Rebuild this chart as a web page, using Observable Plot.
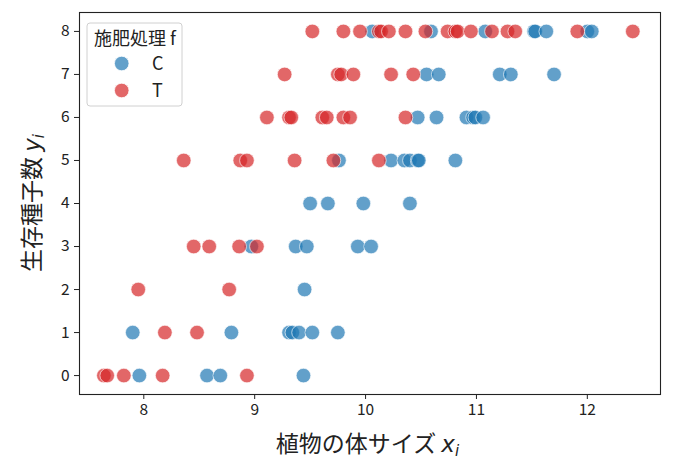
<!DOCTYPE html>
<html>
<head>
<meta charset="utf-8">
<script src="https://cdn.jsdelivr.net/npm/d3@7"></script>
<script src="https://cdn.jsdelivr.net/npm/@observablehq/plot@0.6"></script>
<style>
  html, body { margin: 0; padding: 0; background: white; }
  svg { display: block; }
</style>
</head>
<body>
<div id="chart"></div>
<script>
// ---- data ----
const groups = ["C", "T"];
const groupColors = ["#1f77b4", "#d62728"];

const sizeC  = [7.96, 8.57, 8.69, 9.44,
                7.90, 8.79, 9.31, 9.34, 9.40, 9.52, 9.75,
                9.45,
                8.97, 9.37, 9.47, 9.93, 10.05,
                9.50, 9.66, 9.98, 10.40,
                9.76, 10.23, 10.35, 10.40, 10.47, 10.48, 10.81,
                10.47, 10.64, 10.91, 10.97, 10.99, 11.06,
                10.55, 10.66, 11.21, 11.31, 11.70,
                10.06, 10.59, 11.08, 11.52, 11.53, 11.63, 12.00, 12.04];
const seedsC = [0, 0, 0, 0,
                1, 1, 1, 1, 1, 1, 1,
                2,
                3, 3, 3, 3, 3,
                4, 4, 4, 4,
                5, 5, 5, 5, 5, 5, 5,
                6, 6, 6, 6, 6, 6,
                7, 7, 7, 7, 7,
                8, 8, 8, 8, 8, 8, 8, 8];

const sizeT  = [7.64, 7.67, 7.82, 8.17, 8.93,
                8.19, 8.48,
                7.95, 8.77,
                8.45, 8.59, 8.86, 9.02,
                8.36, 8.87, 8.93, 9.36, 9.71, 10.12,
                9.11, 9.31, 9.33, 9.61, 9.65, 9.80, 9.86, 10.36,
                9.27, 9.75, 9.78, 9.89, 10.23, 10.43,
                9.52, 9.80, 9.95, 10.12, 10.14, 10.21, 10.36, 10.54, 10.74, 10.81, 10.83, 10.95, 11.14, 11.28, 11.35, 11.91, 12.41];
const seedsT = [0, 0, 0, 0, 0,
                1, 1,
                2, 2,
                3, 3, 3, 3,
                5, 5, 5, 5, 5, 5,
                6, 6, 6, 6, 6, 6, 6, 6,
                7, 7, 7, 7, 7, 7,
                8, 8, 8, 8, 8, 8, 8, 8, 8, 8, 8, 8, 8, 8, 8, 8, 8];

const xTicks = [8, 9, 10, 11, 12];
const yTicks = [0, 1, 2, 3, 4, 5, 6, 7, 8];
const xDomain = [7.42, 12.66];
const yDomain = [-0.44, 8.44];

const legendTitle = "施肥処理 f";
const xLabelText = "植物の体サイズ ";
const yLabelText = "生存種子数 ";

// ---- build table ----
const data = [
  ...sizeC.map((x, i) => ({size: x, seeds: seedsC[i], f: "C"})),
  ...sizeT.map((x, i) => ({size: x, seeds: seedsT[i], f: "T"}))
];

const font = "'Noto Sans CJK JP', 'Noto Sans', sans-serif";
const W = 675, H = 462;
const mL = 79, mR = 15, mT = 12, mB = 68;

const chart = Plot.plot({
  width: W, height: H,
  marginLeft: mL, marginRight: mR, marginTop: mT, marginBottom: mB,
  style: {fontFamily: font, fontSize: "15px", color: "#222", background: "white"},
  x: {domain: xDomain, label: null},
  y: {domain: yDomain, label: null},
  color: {domain: groups, range: groupColors},
  marks: [
    Plot.axisX({ticks: xTicks, tickFormat: d => String(d), tickSize: 5, tickPadding: 4, fontSize: 15.5, label: null, stroke: "#222"}),
    Plot.axisY({ticks: yTicks, tickFormat: d => String(d), tickSize: 5, tickPadding: 5, fontSize: 15.5, label: null, stroke: "#222"}),
    Plot.dot(data, {
      x: "size", y: "seeds", fill: "f", r: 7.3,
      fillOpacity: 0.7, stroke: "white", strokeWidth: 0.8, strokeOpacity: 0.8
    }),
    Plot.frame({stroke: "#222", strokeWidth: 1.1})
  ]
});

document.getElementById("chart").appendChild(chart);

const svg = d3.select(chart);

// x axis label with italic x and subscript i
const cx = (mL + (W - mR)) / 2;
const xl = svg.append("text")
  .attr("x", cx - 2).attr("y", 452)
  .attr("text-anchor", "middle")
  .attr("font-family", font)
  .attr("font-size", 23)
  .attr("fill", "#222");
xl.append("tspan").text(xLabelText);
xl.append("tspan").attr("font-family", "'DejaVu Sans', sans-serif").attr("font-style", "italic").text("x");
xl.append("tspan").attr("font-family", "'DejaVu Sans', sans-serif").attr("font-style", "italic")
  .attr("font-size", 15).attr("dy", 4).text("i");

// y axis label
const cy = (mT + (H - mB)) / 2;
const yl = svg.append("text")
  .attr("transform", `translate(40,${cy}) rotate(-90)`)
  .attr("text-anchor", "middle")
  .attr("font-family", font)
  .attr("font-size", 23)
  .attr("fill", "#222");
yl.append("tspan").text(yLabelText);
yl.append("tspan").attr("font-family", "'DejaVu Sans', sans-serif").attr("font-style", "italic").text("y");
yl.append("tspan").attr("font-family", "'DejaVu Sans', sans-serif").attr("font-style", "italic")
  .attr("font-size", 15).attr("dy", 4).text("i");

// legend
const lg = svg.append("g").attr("font-family", font).attr("fill", "#222").attr("text-anchor", "start");
lg.append("rect")
  .attr("x", 87).attr("y", 23).attr("width", 95).attr("height", 83)
  .attr("rx", 3).attr("fill", "white").attr("fill-opacity", 0.8)
  .attr("stroke", "#d0d0d0").attr("stroke-width", 1);
lg.append("text").attr("x", 94).attr("y", 45).attr("font-size", 18).attr("text-anchor", "start").text(legendTitle);
groups.forEach((g, i) => {
  const yy = 63.5 + i * 27;
  lg.append("circle").attr("cx", 121.7).attr("cy", yy).attr("r", 7.3)
    .attr("fill", groupColors[i]).attr("fill-opacity", 0.7)
    .attr("stroke", "white").attr("stroke-width", 0.8);
  lg.append("text").attr("x", 152).attr("y", yy).attr("dy", "0.35em")
    .attr("font-size", 18).attr("text-anchor", "start").text(g);
});
</script>
</body>
</html>
